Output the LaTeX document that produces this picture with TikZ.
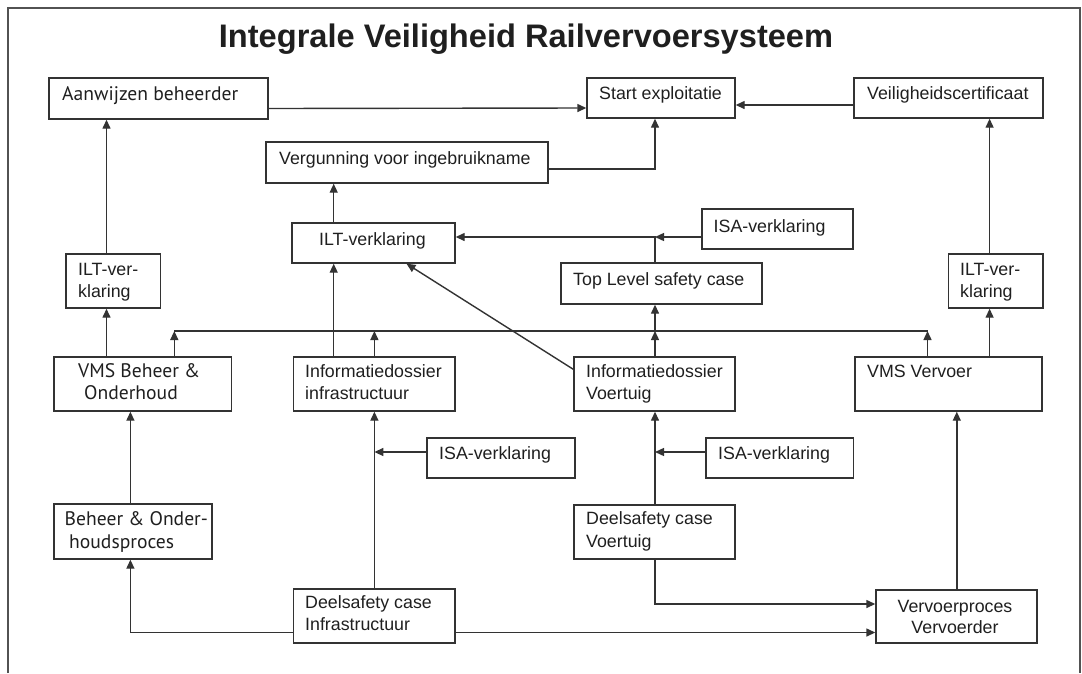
\documentclass[tikz,border=0pt]{standalone}
\usepackage{fontspec}
\setmainfont{Liberation Sans}
\newfontfamily\humfont{PT Sans}
\usetikzlibrary{arrows.meta}
\definecolor{ink}{gray}{0.2}
\definecolor{txt}{gray}{0.12}

% box from (x1,y1) to (x2,y2), pixel-like coordinates, y downwards
\newcommand\mkbox[5]{\node[box, minimum width={#4-#2}, minimum height={#5-#3}] (#1) at ({(#2+#4)/2},{(#3+#5)/2}) {};}

\begin{document}
\begin{tikzpicture}[x=1pt,y=-1pt,
  box/.style={draw=ink, line width=1.4pt, inner sep=0pt, rectangle},
  lbl/.style={anchor=base west, inner sep=0pt, text=txt, font=\fontsize{17.8}{20}\selectfont},
  hlbl/.style={lbl, font=\humfont\fontsize{19.6}{22}\selectfont},
  clbl/.style={lbl, anchor=base},
  conn/.style={draw=ink, line width=1.4pt},
  arr/.style={conn, -{Triangle[length=9pt,width=8pt]}},
]
\useasboundingbox (0,0) rectangle (1082,673);

% frame and title
\draw[draw=ink!85, line width=2pt] (8,673) -- (8,8) -- (1080,8) -- (1080,673);
\node[anchor=base, inner sep=0pt, text=txt, font=\bfseries\fontsize{32.6}{36}\selectfont] (title) at (526,47) {Integrale Veiligheid Railvervoersysteem};

% boxes
\mkbox{aanw}{49}{78}{268}{119}
\mkbox{start}{587}{78}{735}{118}
\mkbox{veil}{854}{78}{1043}{118}
\mkbox{verg}{266}{142}{548}{183}
\mkbox{iltc}{292}{223}{455}{263}
\mkbox{isaT}{702}{209}{853}{249}
\mkbox{topL}{561}{263}{762}{304}
\mkbox{iltL}{66}{254}{160.5}{308}
\mkbox{iltR}{948.5}{254}{1043}{308}
\mkbox{vmsB}{54}{357}{231.5}{411}
\mkbox{infoI}{293.5}{357}{455}{411}
\mkbox{infoV}{574}{357}{735}{411}
\mkbox{vmsV}{855}{357}{1042}{411}
\mkbox{isaL}{427}{438}{575}{478}
\mkbox{isaR}{706}{438}{853.5}{478}
\mkbox{beheerP}{54}{504}{212}{559}
\mkbox{deelI}{293.5}{589}{455}{643}
\mkbox{deelV}{574}{505}{735}{559}
\mkbox{vervP}{876}{590}{1037}{643}

% texts
\node[hlbl] (t1) at (62,100) {Aanwijzen beheerder};
\node[lbl] (t2) at (599,99) {Start exploitatie};
\node[lbl] (t3) at (867,99) {Veiligheidscertificaat};
\node[lbl] (t4) at (279,164) {Vergunning voor ingebruikname};
\node[lbl] (t5) at (319,245) {ILT-verklaring};
\node[lbl] (t6) at (713.5,232) {ISA-verklaring};
\node[lbl] (t7) at (573,285) {Top Level safety case};
\node[lbl] (t8a) at (78,275) {ILT-ver-};
\node[lbl] (t8b) at (78,297) {klaring};
\node[lbl] (t9a) at (960,275) {ILT-ver-};
\node[lbl] (t9b) at (960,297) {klaring};
\node[hlbl] (t10a) at (78,377) {VMS Beheer \&};
\node[hlbl] (t10b) at (84,399) {Onderhoud};
\node[lbl] (t11a) at (305,377) {Informatiedossier};
\node[lbl] (t11b) at (305,399) {infrastructuur};
\node[lbl] (t12a) at (586,377) {Informatiedossier};
\node[lbl] (t12b) at (586,399) {Voertuig};
\node[lbl] (t13) at (867,377) {VMS Vervoer};
\node[lbl] (t14) at (439,459) {ISA-verklaring};
\node[lbl] (t15) at (718,459) {ISA-verklaring};
\node[hlbl] (t16a) at (64.5,525) {Beheer \& Onder-};
\node[hlbl] (t16b) at (69,548) {houdsproces};
\node[lbl] (t17a) at (305,608) {Deelsafety case};
\node[lbl] (t17b) at (305,630) {Infrastructuur};
\node[lbl] (t18a) at (586,524) {Deelsafety case};
\node[lbl] (t18b) at (586,547) {Voertuig};
\node[clbl] (t19a) at (955,612) {Vervoerproces};
\node[clbl] (t19b) at (955,633) {Vervoerder};

% columns and rows of the wiring
\coordinate (xA) at (106.5,0);
\coordinate (xB) at (130.4,0);
\coordinate (xC) at (174.3,0);
\coordinate (xD) at (333.7,0);
\coordinate (xE) at (374.4,0);
\coordinate (xF) at (655,0);
\coordinate (xG) at (927.5,0);
\coordinate (xH) at (956.8,0);
\coordinate (xI) at (989.6,0);
\coordinate (xDiag) at (406.5,0);
\coordinate (busL) at (174.3,331);
\coordinate (busR) at (927.5,331);
\coordinate (jT) at (655,237);
\coordinate (jL) at (374.4,452);
\coordinate (jR) at (655,452);
\coordinate (rV) at (0,604);
\coordinate (rI) at (0,632.5);

% top row
\draw[arr] ([yshift=-10pt]aanw.east) -- ([yshift=-10pt]start.west);
\draw[arr] ([yshift=-7pt]veil.west) -- ([yshift=-7pt]start.east);
\draw[arr] ([yshift=-6.5pt]verg.east) -| (start.south -| xF);
\draw[arr] (iltc.north -| xD) -- (verg.south -| xD);
\draw[arr] (isaT.west |- jT) -- (jT);
\draw[arr] (topL.north -| jT) -- (jT) -- (iltc.east |- jT);
\draw[arr] ([yshift=-13pt]infoV.north west) -- (iltc.south -| xDiag);
\draw[arr] (infoI.north -| xD) -- (iltc.south -| xD);

% left and right ILT columns
\draw[arr] (iltL.north -| xA) -- (aanw.south -| xA);
\draw[arr] (vmsB.north -| xA) -- (iltL.south -| xA);
\draw[arr] (iltR.north -| xI) -- (veil.south -| xI);
\draw[arr] (vmsV.north -| xI) -- (iltR.south -| xI);

% bus line
\draw[conn] (busL) -- (busR);
\draw[arr] (vmsB.north -| xC) -- (busL);
\draw[arr] (infoI.north -| xE) -- (busL -| xE);
\draw[arr] (infoV.north -| xF) -- (busL -| xF);
\draw[arr] (busL -| xF) -- (topL.south -| xF);
\draw[arr] (vmsV.north -| xG) -- (busR);

% lower part
\draw[arr] (beheerP.north -| xB) -- (vmsB.south -| xB);
\draw[arr] (deelI.west |- rI) -| (beheerP.south -| xB);
\draw[arr] (deelI.north -| xE) -- (infoI.south -| xE);
\draw[arr] (isaL.west |- jL) -- (jL);
\draw[arr] (deelI.east |- rI) -- (vervP.west |- rI);
\draw[arr] (deelV.north -| xF) -- (infoV.south -| xF);
\draw[arr] (isaR.west |- jR) -- (jR);
\draw[arr] (deelV.south -| xF) |- (vervP.west |- rV);
\draw[arr] (vervP.north -| xH) -- (vmsV.south -| xH);
\end{tikzpicture}
\end{document}
